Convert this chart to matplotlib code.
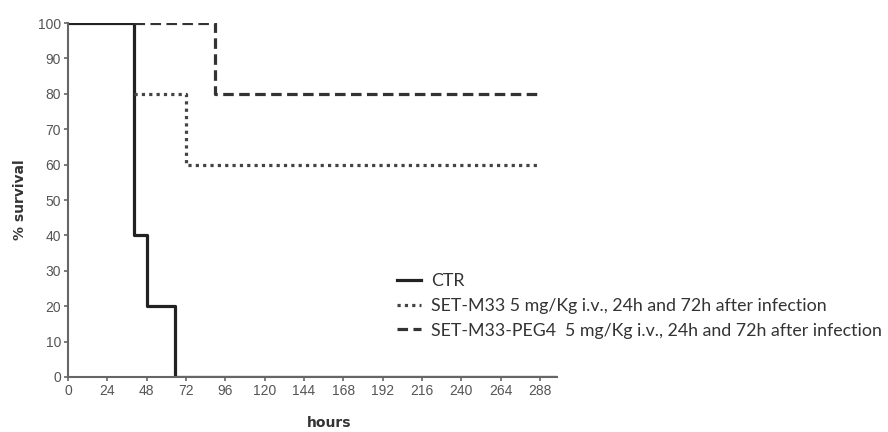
import numpy as np
import matplotlib.pyplot as plt

# survival step data (hours, % survival)
ctr_hours = [0, 40, 48, 65, 298]
ctr_surv = [100, 40, 20, 0, 0]
m33_hours = [40, 72, 288]
m33_surv = [80, 60, 60]
peg_hours = [40, 90, 288]
peg_surv = [100, 80, 80]

labels = ['CTR',
          'SET-M33 5 mg/Kg i.v., 24h and 72h after infection',
          'SET-M33-PEG4  5 mg/Kg i.v., 24h and 72h after infection']

xticks = np.arange(0, 289, 24)
yticks = np.arange(0, 101, 10)

fig = plt.figure(figsize=(8.88, 4.32), dpi=100)
ax = fig.add_axes([68/888, 1-377/432, 489/888, 354/432])

ax.step(ctr_hours, ctr_surv, where='post', color='#222222', lw=2.3, label=labels[0])
ax.step(m33_hours, m33_surv, where='post', color='#444444', lw=2.3,
        linestyle=(0, (1, 1.3)), label=labels[1])
ax.step(peg_hours, peg_surv, where='post', color='#333333', lw=2.3,
        linestyle=(0, (3.3, 1.7)), label=labels[2])

ax.set_xlim(0, 298.4)
ax.set_ylim(0, 100)
ax.set_xticks(xticks)
ax.set_yticks(yticks)
for s in ['top', 'right']:
    ax.spines[s].set_visible(False)
for s in ['left', 'bottom']:
    ax.spines[s].set_color('#666666')
    ax.spines[s].set_linewidth(1.5)
ax.tick_params(colors='#666666', width=1.2, length=3, labelsize=10,
               labelcolor='#555555', pad=2)
for t in ax.get_xticklabels() + ax.get_yticklabels():
    t.set_family('Liberation Sans')

ax.set_xlabel('hours', fontsize=10, fontweight='bold', color='#333333')
ax.xaxis.set_label_coords((329-68)/489, -39/354)
ax.set_ylabel('% survival', fontsize=10, fontweight='bold', color='#333333')
ax.yaxis.set_label_coords(-41/489, 0.5)

leg = ax.legend(loc='upper left', bbox_to_anchor=(388/888, 1-264/432),
                bbox_transform=fig.transFigure, frameon=False,
                handlelength=1.35, handletextpad=0.55, borderpad=0,
                labelspacing=0.5, prop={'family': 'Lato', 'size': 12.8})
for t in leg.get_texts():
    t.set_color('#333333')

fig.savefig('out.png', dpi=100)
